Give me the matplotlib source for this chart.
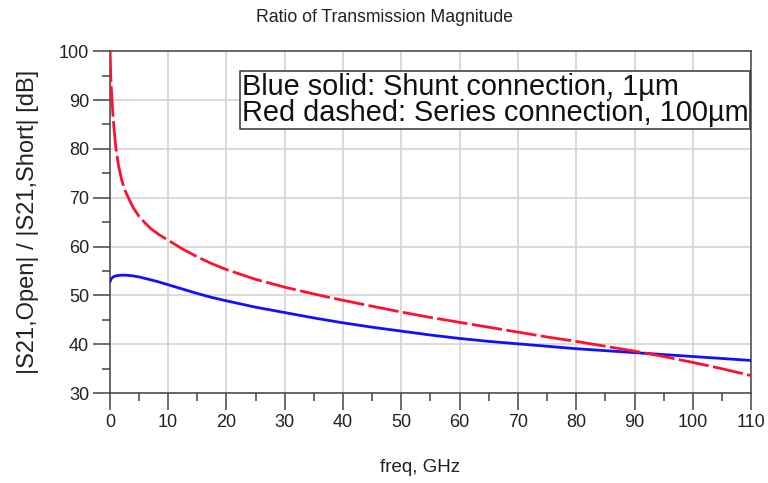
import numpy as np
import matplotlib.pyplot as plt
from matplotlib.ticker import MultipleLocator

plt.rcParams['font.family'] = ['Liberation Sans', 'DejaVu Sans']

# frequency points, GHz
freq_series = [0.05, 0.15, 0.3, 0.5, 0.7, 1.0, 1.5, 2.0, 2.5, 3.1, 4, 5, 6, 7, 8.5, 10, 12.5, 15, 17.5,
               20, 25, 30, 35, 40, 45, 50, 55, 60, 65, 70, 75, 80, 85, 90, 95, 100, 105, 110]
ratio_series = [100, 95, 91.5, 87.5, 84.5, 80.5, 76.5, 73.8, 71.8, 70.2, 68.0, 66.2, 64.9, 63.7, 62.4, 61.3,
                59.5, 57.9, 56.5, 55.3, 53.3, 51.7, 50.3, 49.0, 47.8, 46.6, 45.5, 44.5, 43.5, 42.5,
                41.5, 40.6, 39.6, 38.6, 37.5, 36.3, 35.0, 33.6]

freq_shunt = [0, 0.3, 0.6, 1.0, 1.5, 2, 2.6, 3.2, 4, 5, 6, 8, 10, 12.5, 15, 17.5, 20, 25, 30, 35, 40, 45,
              50, 55, 60, 65, 70, 75, 80, 85, 90, 95, 100, 105, 110]
ratio_shunt = [52.8, 53.5, 53.8, 54.0, 54.1, 54.15, 54.15, 54.1, 54.0, 53.8, 53.5, 52.9, 52.2, 51.3, 50.4,
               49.6, 48.9, 47.6, 46.5, 45.4, 44.4, 43.5, 42.7, 41.9, 41.2, 40.6, 40.1, 39.6, 39.1,
               38.7, 38.3, 37.9, 37.5, 37.1, 36.7]

fig = plt.figure(figsize=(7.68, 4.83), dpi=100)
ax = fig.add_axes([0.143, 0.186, 0.835, 0.708])

ax.plot(freq_shunt, ratio_shunt, color='#1010ff', lw=2.0, zorder=3)
ax.plot(freq_series, ratio_series, color='#ff1030', lw=2.0, dashes=(11, 1.6), zorder=3)

ax.set_xlim(0, 110)
ax.set_ylim(30, 100)
ax.xaxis.set_major_locator(MultipleLocator(10))
ax.xaxis.set_minor_locator(MultipleLocator(5))
ax.yaxis.set_major_locator(MultipleLocator(10))
ax.yaxis.set_minor_locator(MultipleLocator(5))
ax.grid(True, which='major', color='#d4d4d4', lw=1.2)
ax.tick_params(which='major', direction='out', length=12.5, width=1.1, colors='#444444',
               labelsize=13, labelcolor='#222222', pad=2.5)
ax.tick_params(which='minor', direction='out', length=6, width=1.1, colors='#444444')
for sp in ax.spines.values():
    sp.set_color('#444444')
    sp.set_linewidth(1.1)

fig.text(0.5, 1 - 18 / 483, 'Ratio of Transmission Magnitude', fontsize=12.7,
         ha='center', va='center', color='#222222')
ax.set_xlabel('freq, GHz', fontsize=13.5, color='#222222')
ax.xaxis.set_label_coords(0.483, -0.218)
ax.xaxis.label.set_va('center')
ax.set_ylabel('|S21,Open| / |S21,Short| [dB]', fontsize=17, color='#222222')
ax.yaxis.set_label_coords(-0.128, 0.5)
ax.yaxis.label.set_va('center')

ax.text(0.9955, 0.935, 'Blue solid: Shunt connection, 1\u00b5m\nRed dashed: Series connection, 100\u00b5m',
        transform=ax.transAxes, ha='right', va='top', multialignment='left',
        fontsize=20.8, linespacing=0.9, color='#111111',
        bbox=dict(boxstyle='square,pad=0.07', facecolor='white', edgecolor='#333333', lw=1.1))

fig.savefig('out.png', dpi=100)
